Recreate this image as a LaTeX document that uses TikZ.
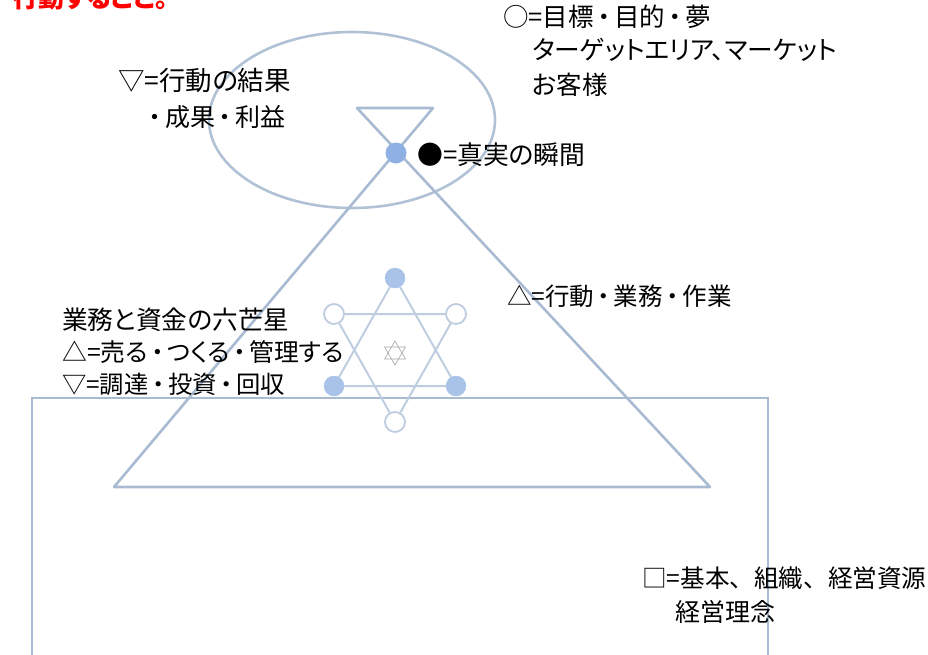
\documentclass[tikz,border=0pt]{standalone}
\usepackage{fontspec}
\usetikzlibrary{shapes.geometric}
\setmainfont[RawFeature=+palt]{Noto Sans CJK JP}
\newfontfamily\fullw{Noto Sans CJK JP}
\newcommand{\nk}{\makebox[0.8em][c]{\fullw ・}}
\newcommand{\tk}{{\fullw 、}}
\definecolor{lineblue}{HTML}{A9BBD2}
\definecolor{ellblue}{HTML}{B2C2D6}
\definecolor{dotblue}{HTML}{8FB0E2}
\definecolor{starline}{HTML}{BFCDE0}
\definecolor{starfill}{HTML}{A9C3E8}
\definecolor{redtxt}{HTML}{FF0000}
\tikzset{
  lbl/.style={anchor=west, inner sep=0pt, font=\fontsize{25}{33}\selectfont, text=black, align=left},
  fs/.style={font=\fontsize{#1}{33}\selectfont},
  mainline/.style={draw=lineblue, line width=2.6pt},
  fullcirc/.style={circle, minimum size=20pt, inner sep=0pt, fill=starfill, draw=starfill},
  opencirc/.style={circle, minimum size=20pt, inner sep=0pt, fill=white, draw=starline, line width=1.8pt},
  starln/.style={draw=starline, line width=2pt}
}
\begin{document}
\begin{tikzpicture}[x=1pt,y=-1pt]
\useasboundingbox (0,0) rectangle (928,654);
\fill[white] (0,0) rectangle (928,654);
\begin{scope}
\clip (0,0) rectangle (928,654);
% red clipped heading
\node[anchor=base west, inner sep=0pt, text=redtxt, font=\fontsize{26}{30}\selectfont\bfseries] (head) at (12,7) {行動すること。};
% rectangle
\coordinate (rbl) at (32,670);
\coordinate (rtl) at (32,398);
\coordinate (rtr) at (768,398);
\coordinate (rbr) at (768,670);
\draw[mainline] (rbl) -- (rtl) -- (rtr) -- (rbr);
% ellipse
\node[ellipse, draw=ellblue, line width=2.6pt, minimum width=286pt, minimum height=176pt, inner sep=0pt] (ell) at (352,120) {};
\end{scope}
% hourglass / triangle
\coordinate (tl) at (357,108);
\coordinate (tr) at (433,108);
\coordinate (bl) at (114,487);
\coordinate (br) at (710,487);
\draw[mainline, line join=round] (tl) -- (tr) -- (bl) -- (br) -- cycle;
\node[circle, minimum size=21pt, inner sep=0pt, fill=dotblue] (dot) at (396,153) {};
% hexagram
\node[fullcirc] (st) at (395,278) {};
\node[opencirc] (sul) at (334,314) {};
\node[opencirc] (sur) at (456,314) {};
\node[fullcirc] (sll) at (334,386) {};
\node[fullcirc] (slr) at (456,386) {};
\node[opencirc] (sb) at (395,422) {};
\draw[starln] (st) -- (sll) -- (slr) -- (st);
\draw[starln] (sul) -- (sur) -- (sb) -- (sul);
% tiny star in centre
\coordinate (c1) at (395,341);
\coordinate (c2) at (405.4,359);
\coordinate (c3) at (384.6,359);
\coordinate (c4) at (395,365);
\coordinate (c5) at (384.6,347);
\coordinate (c6) at (405.4,347);
\draw[gray!70, line width=0.6pt] (c1) -- (c2) -- (c3) -- cycle;
\draw[gray!70, line width=0.6pt] (c4) -- (c5) -- (c6) -- cycle;
% labels
\node[lbl, fs=25.5] (t1) at (503,17) {○=目標\nk 目的\nk 夢};
\node[lbl, fs=25.7] (t2) at (532,50) {ターゲットエリア、マーケット};
\node[lbl, fs=25.5] (t3) at (532,85) {お客様};
\node[lbl, fs=26.5] (t4) at (118,80) {▽=行動の結果};
\node[lbl, fs=25] (t5) at (145,117) {\nk 成果\nk 利益};
\node[lbl, fs=25.8] (t6) at (417,155) {●=真実の瞬間};
\node[lbl, fs=24.5] (t7) at (507,296) {△=行動\nk 業務\nk 作業};
\node[lbl, fs=25.7] (t8) at (62,320) {業務と資金の六芒星};
\node[lbl, fs=24.8] (t9) at (62,352) {△=売る\nk つくる\nk 管理する};
\node[lbl, fs=24.3] (t10) at (62,384) {▽=調達\nk 投資\nk 回収};
\node[lbl, fs=24.6] (t11) at (642,578) {□=基本\tk 組織\tk 経営資源};
\node[lbl, fs=25] (t12) at (675,612) {経営理念};
\end{tikzpicture}
\end{document}
